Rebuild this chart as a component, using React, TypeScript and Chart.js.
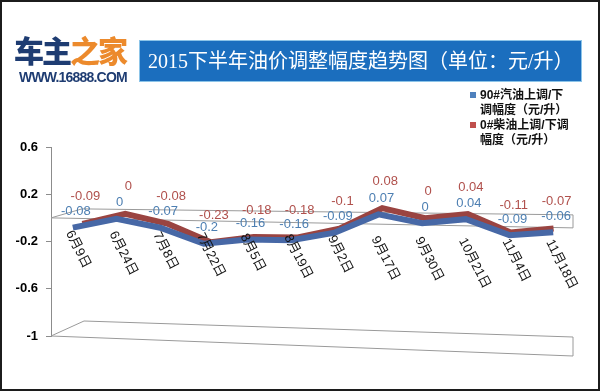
import React, { useEffect, useRef } from "react";
import { Chart, registerables } from "chart.js";

Chart.register(...registerables);

// ---------- data ----------
const categories = [
  "6月9日", "6月24日", "7月8日", "7月22日", "8月5日", "8月19日",
  "9月2日", "9月17日", "9月30日", "10月21日", "11月4日", "11月18日",
];
const gasoline90 = [-0.08, 0, -0.07, -0.2, -0.16, -0.16, -0.09, 0.07, 0, 0.04, -0.09, -0.06];
const diesel0 = [-0.09, 0, -0.08, -0.23, -0.18, -0.18, -0.1, 0.08, 0, 0.04, -0.11, -0.07];
const yTicks = [-1, -0.6, -0.2, 0.2, 0.6];
const seriesNames = ["90#汽油上调/下调幅度（元/升）", "0#柴油上调/下调幅度（元/升）"];
const legendLines = [
  ["90#汽油上调/下", "调幅度（元/升）"],
  ["0#柴油上调/下调", "幅度（元/升）"],
];
const titleText = "2015下半年油价调整幅度趋势图（单位：元/升）";

// ---------- styles ----------
const LINE_COLORS = ["#4768a6", "#9a4441"];
const LEGEND_COLORS = ["#4f81bd", "#c0504d"];
const LABEL_COLORS = ["#4d7fb2", "#b0504c"];
const LABEL_RISE = [-16, -27];
const K_SKEW = 0.0145;
const DEPTHS = [
  { dx: 0, dy: 0 },
  { dx: 10, dy: -5 },
];
const SANS = '"Liberation Sans", "Noto Sans CJK SC", sans-serif';

function mapPt(chart: any, x: number, y: number, d: { dx: number; dy: number }) {
  const { left, right } = chart.chartArea;
  const w = right - left;
  const t = (x - left) / w;
  return { x: x + d.dx * (1 - t), y: y + K_SKEW * (x - left) + d.dy };
}

function drawPlanes(chart: any) {
  const ctx = chart.ctx as CanvasRenderingContext2D;
  const { left, right } = chart.chartArea;
  const ys = chart.scales.y;
  const xR = right - 2;
  const planes = [
    { v: 0, drop: 10, dl: [31, -9], dr: -13 },
    { v: -1, drop: 20, dl: [33, -15], dr: -19 },
  ];
  ctx.save();
  ctx.strokeStyle = "#9a9a9a";
  ctx.lineWidth = 1;
  for (const p of planes) {
    const y0 = ys.getPixelForValue(p.v);
    ctx.beginPath();
    ctx.moveTo(left, y0);
    ctx.lineTo(xR, y0 + p.drop);
    ctx.lineTo(xR, y0 + p.drop + p.dr);
    ctx.lineTo(left + p.dl[0], y0 + p.dl[1]);
    ctx.lineTo(left, y0);
    ctx.stroke();
  }
  ctx.restore();
}

function drawValueLabels(chart: any) {
  const ctx = chart.ctx as CanvasRenderingContext2D;
  ctx.save();
  ctx.font = "13px " + SANS;
  ctx.textAlign = "center";
  ctx.textBaseline = "middle";
  chart.data.datasets.forEach((ds: any, i: number) => {
    const meta = chart.getDatasetMeta(i);
    ctx.fillStyle = LABEL_COLORS[i];
    meta.data.forEach((el: any, j: number) => {
      const p = mapPt(chart, el.x, el.y, DEPTHS[i]);
      ctx.fillText(String(ds.data[j]), p.x + 3, p.y + LABEL_RISE[i]);
    });
  });
  ctx.restore();
}

function drawCategoryLabels(chart: any) {
  const ctx = chart.ctx as CanvasRenderingContext2D;
  const { left, right } = chart.chartArea;
  const xs = chart.scales.x;
  const y0 = chart.scales.y.getPixelForValue(0);
  ctx.save();
  ctx.font = "13px " + SANS;
  ctx.fillStyle = "#111";
  ctx.textAlign = "left";
  ctx.textBaseline = "middle";
  (chart.data.labels as string[]).forEach((lab, i) => {
    const x = xs.getPixelForValue(i);
    const front = y0 + (10 * (x - left)) / (right - 2 - left);
    ctx.save();
    ctx.translate(x - 4, front + 13);
    ctx.rotate((63 * Math.PI) / 180);
    ctx.fillText(lab, 0, 0);
    ctx.restore();
  });
  ctx.restore();
}

const depthPlugin = {
  id: "depth3d",
  beforeDatasetsDraw(chart: any) {
    drawPlanes(chart);
  },
  beforeDatasetDraw(chart: any, args: any) {
    const ctx = chart.ctx as CanvasRenderingContext2D;
    const { left, right } = chart.chartArea;
    const w = right - left;
    const d = DEPTHS[args.index];
    ctx.save();
    const a = 1 - d.dx / w;
    const e = d.dx * (1 + left / w);
    ctx.transform(a, K_SKEW, 0, 1, e, d.dy - K_SKEW * left);
  },
  afterDatasetDraw(chart: any) {
    chart.ctx.restore();
  },
  afterDatasetsDraw(chart: any) {
    drawValueLabels(chart);
    drawCategoryLabels(chart);
  },
};

export default function App() {
  const canvasRef = useRef<HTMLCanvasElement>(null);

  useEffect(() => {
    const canvas = canvasRef.current;
    if (!canvas) return;
    const chart = new Chart(canvas, {
      type: "line",
      data: {
        labels: categories,
        datasets: [
          {
            label: seriesNames[0],
            data: gasoline90,
            borderColor: LINE_COLORS[0],
            backgroundColor: LINE_COLORS[0],
            borderWidth: 6,
            pointRadius: 0,
            tension: 0,
            fill: false,
            borderJoinStyle: "miter",
          },
          {
            label: seriesNames[1],
            data: diesel0,
            borderColor: LINE_COLORS[1],
            backgroundColor: LINE_COLORS[1],
            borderWidth: 6,
            pointRadius: 0,
            tension: 0,
            fill: false,
            borderJoinStyle: "miter",
          },
        ],
      },
      options: {
        responsive: false,
        animation: false,
        layout: { padding: { left: 9, right: 25, top: 147, bottom: 55 } },
        plugins: {
          legend: { display: false },
          tooltip: { enabled: false },
          title: { display: false },
        },
        scales: {
          x: { display: false, offset: true },
          y: {
            min: -1,
            max: 0.6,
            afterBuildTicks: (s: any) => {
              s.ticks = yTicks.map((v) => ({ value: v }));
            },
            afterFit: (s: any) => {
              s.width = 42;
            },
            grid: { drawOnChartArea: false, drawTicks: true, tickLength: 5, color: "#8c8c8c" },
            border: { display: true, color: "#8c8c8c" },
            ticks: {
              padding: 8,
              color: "#000",
              font: { family: SANS, size: 13, weight: "bold" },
              callback: (v: any) => String(Number(Number(v).toFixed(1))),
            },
          },
        },
      },
      plugins: [depthPlugin],
    } as any);
    return () => chart.destroy();
  }, []);

  return (
    <div
      style={{
        position: "absolute",
        left: 0,
        top: 0,
        width: 600,
        height: 391,
        background: "#fff",
        overflow: "hidden",
      }}
    >
      <canvas ref={canvasRef} width={600} height={391} style={{ position: "absolute", left: 0, top: 0 }} />
      <div
        style={{
          position: "absolute",
          left: 14,
          top: 34,
          fontFamily: '"Noto Sans CJK SC", sans-serif',
          fontWeight: 900,
          fontSize: 30,
          lineHeight: "30px",
          letterSpacing: -2,
          whiteSpace: "nowrap",
        }}
      >
        <span style={{ color: "#1e3c72" }}>车主</span>
        <span style={{ color: "#ec8a2c" }}>之家</span>
      </div>
      <div
        style={{
          position: "absolute",
          left: 19,
          top: 70,
          fontFamily: '"Liberation Sans", sans-serif',
          fontWeight: 700,
          fontSize: 14,
          lineHeight: "14px",
          letterSpacing: -0.8,
          color: "#1e3c72",
          whiteSpace: "nowrap",
        }}
      >
        WWW.16888.COM
      </div>
      <div
        style={{
          position: "absolute",
          left: 139,
          top: 40,
          width: 443,
          height: 42,
          boxSizing: "border-box",
          background: "#1b6ebe",
          border: "1px solid #8cc4e8",
          color: "#fff",
          fontFamily: '"Liberation Serif", "DejaVu Serif", "Noto Sans CJK SC", serif',
          fontSize: 20,
          lineHeight: "40px",
          paddingLeft: 8,
          whiteSpace: "nowrap",
        }}
      >
        {titleText}
      </div>
      <div
        style={{
          position: "absolute",
          left: 470,
          top: 88,
          fontFamily: SANS,
          fontWeight: 700,
          fontSize: 12,
          lineHeight: "15px",
          color: "#111",
          whiteSpace: "nowrap",
        }}
      >
        {legendLines.map((lines, i) => (
          <div key={i} style={{ position: "relative", paddingLeft: 10 }}>
            <span
              style={{
                position: "absolute",
                left: 0,
                top: 4,
                width: 6,
                height: 6,
                background: LEGEND_COLORS[i],
              }}
            />
            {lines.map((t, k) => (
              <div key={k}>{t}</div>
            ))}
          </div>
        ))}
      </div>
      <div
        style={{
          position: "absolute",
          left: 0,
          top: 0,
          width: 600,
          height: 391,
          boxSizing: "border-box",
          border: "2px solid #1c1c1c",
          pointerEvents: "none",
        }}
      />
    </div>
  );
}
